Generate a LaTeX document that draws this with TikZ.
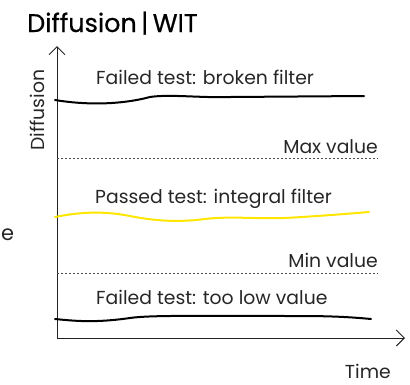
\documentclass[tikz,border=0pt]{standalone}
\usepackage{fontspec}
\setmainfont{Poppins}
\newfontfamily\titlefont{Poppins}[FakeBold=0.5]
\usetikzlibrary{arrows.meta}
\definecolor{curveyellow}{HTML}{FFE600}
\definecolor{axisgray}{HTML}{222222}
\tikzset{
  lbl/.style={inner sep=0pt, font=\fontsize{18.8}{21}\selectfont, text=black!85},
  axis/.style={line width=1pt, draw=axisgray},
  limitline/.style={line width=0.8pt, draw=black!70, dash pattern=on 2pt off 2pt},
  curve/.style={line width=2pt, line cap=round},
  tipopen/.style={-{Straight Barb[length=8pt,width=16pt,line width=1pt]}}
}
\begin{document}
\begin{tikzpicture}[x=1pt,y=-1pt]
\useasboundingbox (0,0) rectangle (410,384);
% title
\node[inner sep=0pt, anchor=base west, font=\titlefont\fontsize{25.5}{28}\selectfont] (title) at (27,32) {Diffusion\,|\,WIT};
% axes
\coordinate (origin) at (57,338);
\coordinate (ytop) at (57,46);
\coordinate (xend) at (405,338);
\draw[axis, tipopen] (origin) -- (ytop);
\draw[axis, tipopen] (origin) -- (xend);
% axis labels
\node[lbl, rotate=90, anchor=base] (ylabel) at (44,110) {Diffusion};
\node[lbl, anchor=base east] (xlabel) at (391,378.5) {Time};
\node[lbl, anchor=base west, font=\fontsize{21}{23}\selectfont] (cut) at (1,240) {e};
% limits
\coordinate (maxL) at (57,158);
\coordinate (maxR) at (378,158);
\coordinate (minL) at (57,273);
\coordinate (minR) at (378,273);
\draw[limitline] (maxL) -- (maxR);
\draw[limitline] (minL) -- (minR);
\node[lbl, anchor=base east] (maxlbl) at (378,153) {Max value};
\node[lbl, anchor=base east] (minlbl) at (378,267) {Min value};
% curve labels
\node[lbl, anchor=base west] (broken) at (96,84) {Failed test: broken filter};
\node[lbl, anchor=base west] (passed) at (95,203) {Passed test: integral filter};
\node[lbl, anchor=base west] (low) at (96,304) {Failed test: too low value};
% curves
\draw[curve] (55,100) .. controls (85,105) and (120,105) .. (150,97) .. controls (170,94) and (200,98) .. (230,97) -- (364,96);
\draw[curve, draw=curveyellow] (55,217) .. controls (75,213) and (100,210) .. (130,216) .. controls (150,220) and (175,223) .. (205,219) .. controls (230,216) and (255,219) .. (285,218) .. controls (320,216) and (345,214) .. (369,212);
\draw[curve] (55,319) .. controls (75,321) and (95,323) .. (130,318) .. controls (150,315) and (200,316) .. (300,316) .. controls (330,316) and (350,317) .. (371,319);
\end{tikzpicture}
\end{document}
